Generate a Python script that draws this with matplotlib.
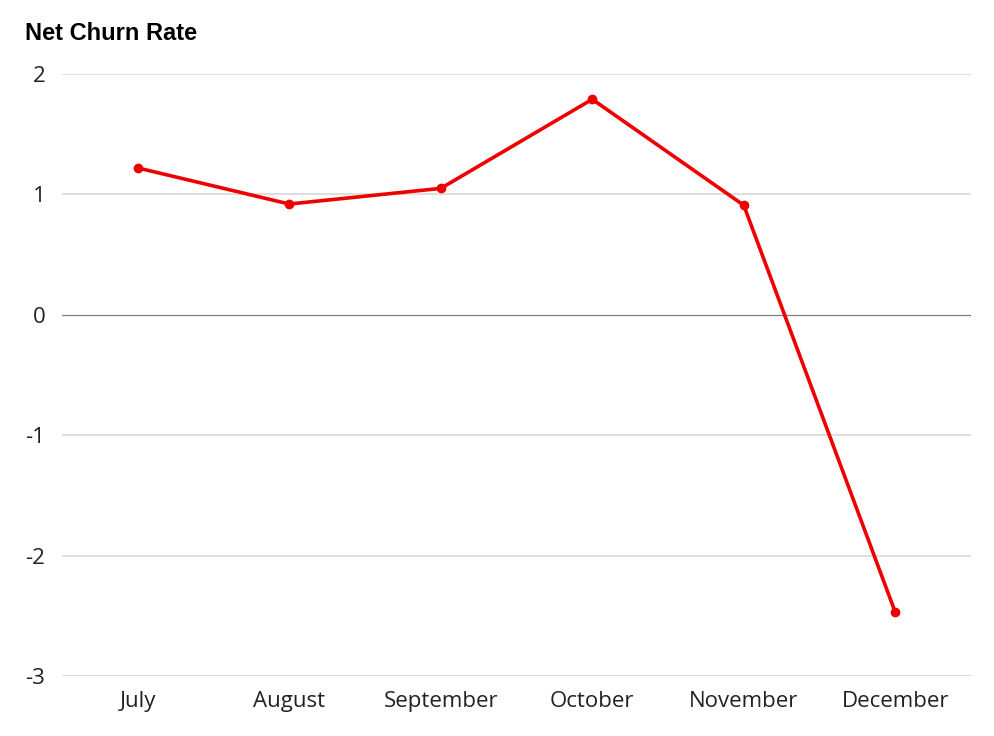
import matplotlib.pyplot as plt

# Data
months = ['July', 'August', 'September', 'October', 'November', 'December']
net_churn = [1.22, 0.92, 1.05, 1.79, 0.91, -2.47]
y_ticks = [2, 1, 0, -1, -2, -3]

fig = plt.figure(figsize=(9.95, 7.36), dpi=100)
ax = fig.add_axes([62 / 995, 1 - 676 / 736, (971 - 62) / 995, (676 - 74) / 736])

x = range(len(months))
ax.plot(x, net_churn, color='#ee0000', linewidth=2.6, marker='o', markersize=6,
        solid_joinstyle='round', zorder=3)

ax.set_xlim(-0.5, len(months) - 0.5)
ax.set_ylim(-3, 2)
ax.set_xticks(list(x))
ax.set_xticklabels(months)
ax.set_yticks(y_ticks)
ax.set_yticklabels([str(v) for v in y_ticks])

# Grid lines
for v in y_ticks:
    if v == 0:
        ax.axhline(v, color='#7f7f7f', linewidth=0.9, zorder=1)
    else:
        ax.axhline(v, color='#d9d9d9', linewidth=1.2, zorder=1)

for s in ax.spines.values():
    s.set_visible(False)
ax.tick_params(axis='both', length=0, labelsize=16, colors='#222222')
ax.tick_params(axis='y', pad=12)
ax.tick_params(axis='x', pad=10.5)
for lbl in ax.get_xticklabels() + ax.get_yticklabels():
    lbl.set_fontfamily('Open Sans')

fig.text(25 / 995, 1 - 40 / 736, 'Net Churn Rate', fontsize=17, fontweight='bold',
         family='Liberation Sans', ha='left', va='baseline')

fig.savefig('out.png', dpi=100)
